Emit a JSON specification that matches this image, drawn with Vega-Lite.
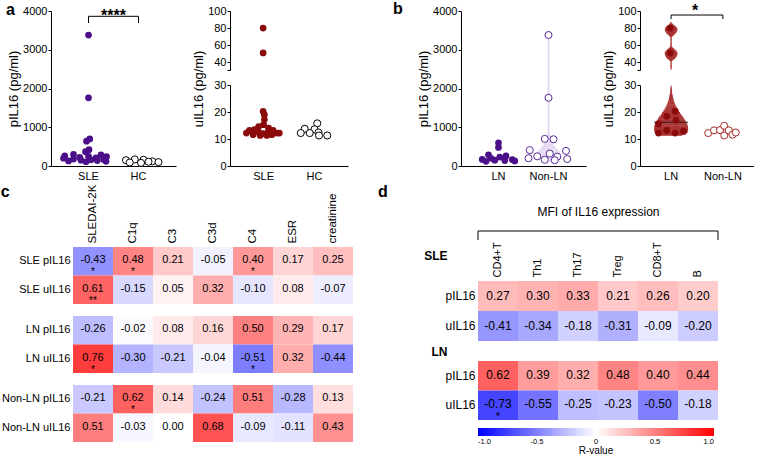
{
  "$schema": "https://vega.github.io/schema/vega-lite/v6.json",
  "padding": {"left": 0, "top": 1, "right": 0, "bottom": 0},
  "background": "white",
  "config": {
    "font": "Liberation Sans",
    "locale": {"number": {"decimal": ".", "thousands": ",", "grouping": [3], "currency": ["$", ""], "minus": "-"}},
    "view": {"stroke": null},
    "axis": {"labelFontSize": 11, "titleFontSize": 13, "titleFontWeight": "normal", "labelColor": "#000", "titleColor": "#000", "domainColor": "#000", "tickColor": "#000", "grid": false, "tickSize": 3, "labelPadding": 1, "titlePadding": 2},
    "title": {"fontSize": 16, "fontWeight": "bold", "color": "#000"}
  },
  "datasets": {
    "cdat": [
      {"g": "SLE", "row": "SLE pIL16", "col": "SLEDAI-2K", "r": -0.43, "s": "*"},
      {"g": "SLE", "row": "SLE pIL16", "col": "C1q", "r": 0.48, "s": "*"},
      {"g": "SLE", "row": "SLE pIL16", "col": "C3", "r": 0.21, "s": ""},
      {"g": "SLE", "row": "SLE pIL16", "col": "C3d", "r": -0.05, "s": ""},
      {"g": "SLE", "row": "SLE pIL16", "col": "C4", "r": 0.40, "s": "*"},
      {"g": "SLE", "row": "SLE pIL16", "col": "ESR", "r": 0.17, "s": ""},
      {"g": "SLE", "row": "SLE pIL16", "col": "creatinine", "r": 0.25, "s": ""},
      {"g": "SLE", "row": "SLE uIL16", "col": "SLEDAI-2K", "r": 0.61, "s": "**"},
      {"g": "SLE", "row": "SLE uIL16", "col": "C1q", "r": -0.15, "s": ""},
      {"g": "SLE", "row": "SLE uIL16", "col": "C3", "r": 0.05, "s": ""},
      {"g": "SLE", "row": "SLE uIL16", "col": "C3d", "r": 0.32, "s": ""},
      {"g": "SLE", "row": "SLE uIL16", "col": "C4", "r": -0.10, "s": ""},
      {"g": "SLE", "row": "SLE uIL16", "col": "ESR", "r": 0.08, "s": ""},
      {"g": "SLE", "row": "SLE uIL16", "col": "creatinine", "r": -0.07, "s": ""},
      {"g": "LN", "row": "LN pIL16", "col": "SLEDAI-2K", "r": -0.26, "s": ""},
      {"g": "LN", "row": "LN pIL16", "col": "C1q", "r": -0.02, "s": ""},
      {"g": "LN", "row": "LN pIL16", "col": "C3", "r": 0.08, "s": ""},
      {"g": "LN", "row": "LN pIL16", "col": "C3d", "r": 0.16, "s": ""},
      {"g": "LN", "row": "LN pIL16", "col": "C4", "r": 0.50, "s": ""},
      {"g": "LN", "row": "LN pIL16", "col": "ESR", "r": 0.29, "s": ""},
      {"g": "LN", "row": "LN pIL16", "col": "creatinine", "r": 0.17, "s": ""},
      {"g": "LN", "row": "LN uIL16", "col": "SLEDAI-2K", "r": 0.76, "s": "*"},
      {"g": "LN", "row": "LN uIL16", "col": "C1q", "r": -0.30, "s": ""},
      {"g": "LN", "row": "LN uIL16", "col": "C3", "r": -0.21, "s": ""},
      {"g": "LN", "row": "LN uIL16", "col": "C3d", "r": -0.04, "s": ""},
      {"g": "LN", "row": "LN uIL16", "col": "C4", "r": -0.51, "s": "*"},
      {"g": "LN", "row": "LN uIL16", "col": "ESR", "r": 0.32, "s": ""},
      {"g": "LN", "row": "LN uIL16", "col": "creatinine", "r": -0.44, "s": ""},
      {"g": "NL", "row": "Non-LN pIL16", "col": "SLEDAI-2K", "r": -0.21, "s": ""},
      {"g": "NL", "row": "Non-LN pIL16", "col": "C1q", "r": 0.62, "s": "*"},
      {"g": "NL", "row": "Non-LN pIL16", "col": "C3", "r": 0.14, "s": ""},
      {"g": "NL", "row": "Non-LN pIL16", "col": "C3d", "r": -0.24, "s": ""},
      {"g": "NL", "row": "Non-LN pIL16", "col": "C4", "r": 0.51, "s": ""},
      {"g": "NL", "row": "Non-LN pIL16", "col": "ESR", "r": -0.28, "s": ""},
      {"g": "NL", "row": "Non-LN pIL16", "col": "creatinine", "r": 0.13, "s": ""},
      {"g": "NL", "row": "Non-LN uIL16", "col": "SLEDAI-2K", "r": 0.51, "s": ""},
      {"g": "NL", "row": "Non-LN uIL16", "col": "C1q", "r": -0.03, "s": ""},
      {"g": "NL", "row": "Non-LN uIL16", "col": "C3", "r": 0.00, "s": ""},
      {"g": "NL", "row": "Non-LN uIL16", "col": "C3d", "r": 0.68, "s": ""},
      {"g": "NL", "row": "Non-LN uIL16", "col": "C4", "r": -0.09, "s": ""},
      {"g": "NL", "row": "Non-LN uIL16", "col": "ESR", "r": -0.11, "s": ""},
      {"g": "NL", "row": "Non-LN uIL16", "col": "creatinine", "r": 0.43, "s": ""}
    ],
    "ddat": [
      {"g": "SLE", "row": "pIL16", "col": "CD4+T", "r": 0.27, "s": ""},
      {"g": "SLE", "row": "pIL16", "col": "Th1", "r": 0.30, "s": ""},
      {"g": "SLE", "row": "pIL16", "col": "Th17", "r": 0.33, "s": ""},
      {"g": "SLE", "row": "pIL16", "col": "Treg", "r": 0.21, "s": ""},
      {"g": "SLE", "row": "pIL16", "col": "CD8+T", "r": 0.26, "s": ""},
      {"g": "SLE", "row": "pIL16", "col": "B", "r": 0.20, "s": ""},
      {"g": "SLE", "row": "uIL16", "col": "CD4+T", "r": -0.41, "s": ""},
      {"g": "SLE", "row": "uIL16", "col": "Th1", "r": -0.34, "s": ""},
      {"g": "SLE", "row": "uIL16", "col": "Th17", "r": -0.18, "s": ""},
      {"g": "SLE", "row": "uIL16", "col": "Treg", "r": -0.31, "s": ""},
      {"g": "SLE", "row": "uIL16", "col": "CD8+T", "r": -0.09, "s": ""},
      {"g": "SLE", "row": "uIL16", "col": "B", "r": -0.20, "s": ""},
      {"g": "LN", "row": "pIL16", "col": "CD4+T", "r": 0.62, "s": ""},
      {"g": "LN", "row": "pIL16", "col": "Th1", "r": 0.39, "s": ""},
      {"g": "LN", "row": "pIL16", "col": "Th17", "r": 0.32, "s": ""},
      {"g": "LN", "row": "pIL16", "col": "Treg", "r": 0.48, "s": ""},
      {"g": "LN", "row": "pIL16", "col": "CD8+T", "r": 0.40, "s": ""},
      {"g": "LN", "row": "pIL16", "col": "B", "r": 0.44, "s": ""},
      {"g": "LN", "row": "uIL16", "col": "CD4+T", "r": -0.73, "s": "*"},
      {"g": "LN", "row": "uIL16", "col": "Th1", "r": -0.55, "s": ""},
      {"g": "LN", "row": "uIL16", "col": "Th17", "r": -0.25, "s": ""},
      {"g": "LN", "row": "uIL16", "col": "Treg", "r": -0.23, "s": ""},
      {"g": "LN", "row": "uIL16", "col": "CD8+T", "r": -0.50, "s": ""},
      {"g": "LN", "row": "uIL16", "col": "B", "r": -0.18, "s": ""}
    ]
  },
  "resolve": {"scale": {"color": "independent"}},
  "columns": 1,
  "spacing": 3,
  "concat": [
    {
      "bounds": "flush",
      "spacing": 54,
      "hconcat": [
        {
          "width": 125, "height": 155,
          "title": {"text": "a", "orient": "top", "anchor": "start", "frame": "group", "align": "left", "baseline": "alphabetic", "offset": 0, "dx": -45, "dy": 26},
          "encoding": {
            "x": {"field": "g", "type": "nominal", "scale": {"type": "band", "domain": ["SLE", "HC"], "paddingOuter": 0.25, "paddingInner": 0}, "axis": {"title": null, "ticks": false, "labelAngle": 0, "labelPadding": 4}},
            "y": {"field": "v", "type": "quantitative", "scale": {"domain": [0, 4000], "nice": false}, "axis": {"values": [0, 1000, 2000, 3000, 4000], "format": "d", "title": "pIL16 (pg/ml)"}}
          },
          "layer": [
            {
              "data": {"values": [
                {"g": "SLE", "v": 3380, "dx": 0}, {"g": "SLE", "v": 1760, "dx": 0}, {"g": "SLE", "v": 700, "dx": 0.05}, {"g": "SLE", "v": 640, "dx": -0.08},
                {"g": "SLE", "v": 420, "dx": 0.02}, {"g": "SLE", "v": 370, "dx": -0.12}, {"g": "SLE", "v": 300, "dx": -0.6}, {"g": "SLE", "v": 290, "dx": 0.5},
                {"g": "SLE", "v": 260, "dx": -0.95}, {"g": "SLE", "v": 250, "dx": 0.0}, {"g": "SLE", "v": 240, "dx": 0.72}, {"g": "SLE", "v": 220, "dx": -0.35},
                {"g": "SLE", "v": 210, "dx": 0.3}, {"g": "SLE", "v": 200, "dx": -1.0}, {"g": "SLE", "v": 180, "dx": -0.6}, {"g": "SLE", "v": 170, "dx": 0.6},
                {"g": "SLE", "v": 160, "dx": 0.1}, {"g": "SLE", "v": 150, "dx": -0.3}, {"g": "SLE", "v": 140, "dx": 0.35}, {"g": "SLE", "v": 130, "dx": -0.8},
                {"g": "SLE", "v": 120, "dx": 0.7}, {"g": "SLE", "v": 110, "dx": -0.1}
              ]},
              "mark": {"type": "circle", "size": 45, "color": "#4B0F8A", "opacity": 1},
              "encoding": {"xOffset": {"field": "dx", "type": "quantitative", "scale": {"domain": [-1, 1]}}}
            },
            {
              "data": {"values": [
                {"g": "HC", "v": 150, "dx": -0.5}, {"g": "HC", "v": 170, "dx": -0.15}, {"g": "HC", "v": 160, "dx": 0.2}, {"g": "HC", "v": 120, "dx": 0.55},
                {"g": "HC", "v": 100, "dx": 0.8}, {"g": "HC", "v": 90, "dx": -0.35}, {"g": "HC", "v": 80, "dx": 0.1}, {"g": "HC", "v": 110, "dx": 0.4}
              ]},
              "mark": {"type": "circle", "size": 50, "fill": "#ffffff", "stroke": "#000000", "strokeWidth": 1, "opacity": 1},
              "encoding": {"xOffset": {"field": "dx", "type": "quantitative", "scale": {"domain": [-1, 1]}}}
            },
            {
              "data": {"values": [{"g": "SLE", "g2": "HC", "v": 3863}]},
              "mark": {"type": "rule", "color": "#000", "strokeWidth": 1},
              "encoding": {"x2": {"field": "g2"}}
            },
            {
              "data": {"values": [{"g": "SLE", "v": 3863, "v2": 3690}, {"g": "HC", "v": 3863, "v2": 3690}]},
              "mark": {"type": "rule", "color": "#000", "strokeWidth": 1},
              "encoding": {"y2": {"field": "v2"}}
            },
            {
              "data": {"values": [{"g": "SLE", "dx": 1, "v": 3740, "t": "****"}]},
              "mark": {"type": "text", "fontSize": 16, "fontWeight": "bold", "baseline": "alphabetic", "color": "#000"},
              "encoding": {"xOffset": {"field": "dx", "type": "quantitative", "scale": {"domain": [-1, 1]}}, "text": {"field": "t"}}
            }
          ]
        },
        {
          "width": 118, "height": 155,
          "encoding": {
            "x": {"field": "g", "type": "nominal", "scale": {"type": "band", "domain": ["SLE", "HC"], "paddingOuter": 0.16, "paddingInner": 0}, "axis": {"title": null, "ticks": false, "labelAngle": 0, "labelPadding": 4}},
            "y": {"field": "v", "type": "quantitative", "scale": {"domain": [0, 30, 31, 100], "range": [155, 74, 59, 0], "nice": false, "zero": false}, "axis": {"values": [0, 10, 20, 30, 31, 40, 60, 80, 100], "labelExpr": "datum.value == 31 ? '' : datum.label", "title": "uIL16 (pg/ml)", "domainDash": [81, 15, 59]}}
          },
          "layer": [
            {
              "data": {"values": [
                {"g": "SLE", "v": 80, "dx": 0}, {"g": "SLE", "v": 51, "dx": 0}, {"g": "SLE", "v": 20.2, "dx": 0}, {"g": "SLE", "v": 19, "dx": 0.05},
                {"g": "SLE", "v": 17.2, "dx": 0.05}, {"g": "SLE", "v": 15.3, "dx": 0.02}, {"g": "SLE", "v": 14.6, "dx": -0.18}, {"g": "SLE", "v": 14, "dx": 0.22},
                {"g": "SLE", "v": 13.5, "dx": -0.35}, {"g": "SLE", "v": 13.2, "dx": -0.55}, {"g": "SLE", "v": 13.2, "dx": 0.4}, {"g": "SLE", "v": 12.6, "dx": -0.18},
                {"g": "SLE", "v": 12.6, "dx": 0.2}, {"g": "SLE", "v": 12.2, "dx": -0.67}, {"g": "SLE", "v": 12.2, "dx": 0.55}, {"g": "SLE", "v": 12, "dx": 0},
                {"g": "SLE", "v": 11.6, "dx": -0.4}, {"g": "SLE", "v": 11.6, "dx": 0.35}, {"g": "SLE", "v": 11.3, "dx": -0.12}, {"g": "SLE", "v": 11.3, "dx": 0.15},
                {"g": "SLE", "v": 12.2, "dx": 0.65}
              ]},
              "mark": {"type": "circle", "size": 45, "color": "#8B0A0A", "opacity": 1},
              "encoding": {"xOffset": {"field": "dx", "type": "quantitative", "scale": {"domain": [-1, 1]}}}
            },
            {
              "data": {"values": [
                {"g": "HC", "v": 15.8, "dx": 0.13}, {"g": "HC", "v": 13.8, "dx": -0.37}, {"g": "HC", "v": 13.6, "dx": 0.02}, {"g": "HC", "v": 12.2, "dx": -0.53},
                {"g": "HC", "v": 12.2, "dx": -0.17}, {"g": "HC", "v": 12.4, "dx": 0.18}, {"g": "HC", "v": 11.3, "dx": 0.2}, {"g": "HC", "v": 11.3, "dx": 0.53}
              ]},
              "mark": {"type": "circle", "size": 50, "fill": "#ffffff", "stroke": "#000000", "strokeWidth": 1, "opacity": 1},
              "encoding": {"xOffset": {"field": "dx", "type": "quantitative", "scale": {"domain": [-1, 1]}}}
            }
          ]
        },
        {
          "width": 5, "height": 155,
          "data": {"values": [{"k": 1}]},
          "mark": {"type": "point", "opacity": 0},
          "encoding": {}
        },
        {
          "width": 125, "height": 155,
          "title": {"text": "b", "orient": "top", "anchor": "start", "frame": "group", "align": "left", "baseline": "alphabetic", "offset": 0, "dx": -68, "dy": 25},
          "encoding": {
            "x": {"field": "g", "type": "nominal", "scale": {"type": "band", "domain": ["LN", "Non-LN"], "paddingOuter": 0.25, "paddingInner": 0}, "axis": {"title": null, "ticks": false, "labelAngle": 0, "labelPadding": 4}},
            "y": {"field": "v", "type": "quantitative", "scale": {"domain": [0, 4000], "nice": false}, "axis": {"values": [0, 1000, 2000, 3000, 4000], "format": "d", "title": "pIL16 (pg/ml)"}}
          },
          "layer": [
            {
              "data": {"values": [
                {"g": "Non-LN", "v": 150, "w": 0.3}, {"g": "Non-LN", "v": 200, "w": 0.42}, {"g": "Non-LN", "v": 250, "w": 0.48}, {"g": "Non-LN", "v": 300, "w": 0.5},
                {"g": "Non-LN", "v": 350, "w": 0.46}, {"g": "Non-LN", "v": 400, "w": 0.4}, {"g": "Non-LN", "v": 450, "w": 0.32}, {"g": "Non-LN", "v": 500, "w": 0.26},
                {"g": "Non-LN", "v": 550, "w": 0.2}, {"g": "Non-LN", "v": 600, "w": 0.17}, {"g": "Non-LN", "v": 650, "w": 0.15}, {"g": "Non-LN", "v": 700, "w": 0.13},
                {"g": "Non-LN", "v": 750, "w": 0.1}, {"g": "Non-LN", "v": 800, "w": 0.07}, {"g": "Non-LN", "v": 850, "w": 0.05},
                {"g": "Non-LN", "v": 1680, "w": 0.05}, {"g": "Non-LN", "v": 1720, "w": 0.09}, {"g": "Non-LN", "v": 1760, "w": 0.11}, {"g": "Non-LN", "v": 1800, "w": 0.09}, {"g": "Non-LN", "v": 1840, "w": 0.05},
                {"g": "Non-LN", "v": 3300, "w": 0.05}, {"g": "Non-LN", "v": 3340, "w": 0.09}, {"g": "Non-LN", "v": 3380, "w": 0.11}, {"g": "Non-LN", "v": 3420, "w": 0.09}, {"g": "Non-LN", "v": 3460, "w": 0.05}
              ]},
              "mark": {"type": "tick", "thickness": 2.2, "color": "#E4DAF2", "opacity": 1},
              "encoding": {"size": {"field": "w", "type": "quantitative", "scale": {"type": "linear", "domain": [0, 1], "range": [0, 50], "zero": true}, "legend": null}}
            },
            {
              "data": {"values": [{"g": "Non-LN", "v": 850, "v2": 3460}]},
              "mark": {"type": "rule", "color": "#E4DAF2", "strokeWidth": 2},
              "encoding": {"y2": {"field": "v2"}}
            },
            {
              "data": {"values": [
                {"g": "LN", "v": 600, "dx": 0}, {"g": "LN", "v": 480, "dx": 0}, {"g": "LN", "v": 290, "dx": -0.4}, {"g": "LN", "v": 260, "dx": 0.3},
                {"g": "LN", "v": 230, "dx": 0.05}, {"g": "LN", "v": 200, "dx": -0.3}, {"g": "LN", "v": 170, "dx": -0.65}, {"g": "LN", "v": 165, "dx": 0.55},
                {"g": "LN", "v": 150, "dx": -0.15}, {"g": "LN", "v": 140, "dx": 0.25}, {"g": "LN", "v": 130, "dx": 0.65}, {"g": "LN", "v": 120, "dx": -0.5}
              ]},
              "mark": {"type": "circle", "size": 45, "color": "#4B0F8A", "opacity": 1},
              "encoding": {"xOffset": {"field": "dx", "type": "quantitative", "scale": {"domain": [-1, 1]}}}
            },
            {
              "data": {"values": [
                {"g": "Non-LN", "v": 3380, "dx": 0}, {"g": "Non-LN", "v": 1760, "dx": 0}, {"g": "Non-LN", "v": 700, "dx": -0.15}, {"g": "Non-LN", "v": 690, "dx": 0.2},
                {"g": "Non-LN", "v": 410, "dx": -0.75}, {"g": "Non-LN", "v": 390, "dx": 0.7}, {"g": "Non-LN", "v": 320, "dx": 0.05}, {"g": "Non-LN", "v": 250, "dx": -0.45},
                {"g": "Non-LN", "v": 240, "dx": 0.35}, {"g": "Non-LN", "v": 200, "dx": -0.8}, {"g": "Non-LN", "v": 180, "dx": 0.75}, {"g": "Non-LN", "v": 160, "dx": -0.15},
                {"g": "Non-LN", "v": 150, "dx": 0.25}
              ]},
              "mark": {"type": "circle", "size": 50, "fill": "#ffffff", "stroke": "#5A2A9A", "strokeWidth": 1, "opacity": 1},
              "encoding": {"xOffset": {"field": "dx", "type": "quantitative", "scale": {"domain": [-1, 1]}}}
            }
          ]
        },
        {
          "width": 114, "height": 155,
          "encoding": {
            "x": {"field": "g", "type": "nominal", "scale": {"type": "band", "domain": ["LN", "Non-LN"], "paddingOuter": 0.1, "paddingInner": 0}, "axis": {"title": null, "ticks": false, "labelAngle": 0, "labelPadding": 4}},
            "y": {"field": "v", "type": "quantitative", "scale": {"domain": [0, 30, 31, 100], "range": [155, 74, 59, 0], "nice": false, "zero": false}, "axis": {"values": [0, 10, 20, 30, 31, 40, 60, 80, 100], "labelExpr": "datum.value == 31 ? '' : datum.label", "title": "uIL16 (pg/ml)", "domainDash": [81, 15, 59]}}
          },
          "layer": [
            {
              "data": {"values": [
                {"g": "LN", "v": 11.6, "w": 0.45}, {"g": "LN", "v": 12.0, "w": 0.6}, {"g": "LN", "v": 12.6, "w": 0.66}, {"g": "LN", "v": 13.3, "w": 0.68},
                {"g": "LN", "v": 14.0, "w": 0.68}, {"g": "LN", "v": 14.7, "w": 0.67}, {"g": "LN", "v": 15.4, "w": 0.65}, {"g": "LN", "v": 16.1, "w": 0.62},
                {"g": "LN", "v": 16.8, "w": 0.57}, {"g": "LN", "v": 17.5, "w": 0.52}, {"g": "LN", "v": 18.2, "w": 0.47}, {"g": "LN", "v": 18.9, "w": 0.41},
                {"g": "LN", "v": 19.6, "w": 0.36}, {"g": "LN", "v": 20.3, "w": 0.31}, {"g": "LN", "v": 21.0, "w": 0.26}, {"g": "LN", "v": 21.7, "w": 0.22},
                {"g": "LN", "v": 22.4, "w": 0.18}, {"g": "LN", "v": 23.1, "w": 0.15}, {"g": "LN", "v": 23.8, "w": 0.12}, {"g": "LN", "v": 24.5, "w": 0.1},
                {"g": "LN", "v": 25.2, "w": 0.08}, {"g": "LN", "v": 25.9, "w": 0.07}, {"g": "LN", "v": 26.6, "w": 0.05}, {"g": "LN", "v": 27.3, "w": 0.04},
                {"g": "LN", "v": 28.0, "w": 0.035}, {"g": "LN", "v": 28.7, "w": 0.03}, {"g": "LN", "v": 29.4, "w": 0.02},
                {"g": "LN", "v": 32.5, "w": 0.02}, {"g": "LN", "v": 34, "w": 0.02}, {"g": "LN", "v": 35.5, "w": 0.02}, {"g": "LN", "v": 37, "w": 0.02},
                {"g": "LN", "v": 38.5, "w": 0.02}, {"g": "LN", "v": 40, "w": 0.02}, {"g": "LN", "v": 42, "w": 0.04}, {"g": "LN", "v": 43.5, "w": 0.1},
                {"g": "LN", "v": 45, "w": 0.16}, {"g": "LN", "v": 46.5, "w": 0.2}, {"g": "LN", "v": 48, "w": 0.23}, {"g": "LN", "v": 49.5, "w": 0.25},
                {"g": "LN", "v": 51, "w": 0.25}, {"g": "LN", "v": 52.5, "w": 0.22}, {"g": "LN", "v": 54, "w": 0.17}, {"g": "LN", "v": 55.5, "w": 0.11},
                {"g": "LN", "v": 57, "w": 0.06}, {"g": "LN", "v": 58.5, "w": 0.03}, {"g": "LN", "v": 60, "w": 0.02}, {"g": "LN", "v": 61.5, "w": 0.02},
                {"g": "LN", "v": 63, "w": 0.02}, {"g": "LN", "v": 64.5, "w": 0.02}, {"g": "LN", "v": 66, "w": 0.02}, {"g": "LN", "v": 67.5, "w": 0.02},
                {"g": "LN", "v": 69, "w": 0.02}, {"g": "LN", "v": 70.5, "w": 0.05}, {"g": "LN", "v": 72, "w": 0.1}, {"g": "LN", "v": 73.5, "w": 0.15},
                {"g": "LN", "v": 75, "w": 0.2}, {"g": "LN", "v": 76.5, "w": 0.23}, {"g": "LN", "v": 78, "w": 0.25}, {"g": "LN", "v": 79.5, "w": 0.24},
                {"g": "LN", "v": 81, "w": 0.2}, {"g": "LN", "v": 82.5, "w": 0.14}, {"g": "LN", "v": 84, "w": 0.08}, {"g": "LN", "v": 85.5, "w": 0.03}
              ]},
              "mark": {"type": "tick", "thickness": 2.2, "color": "#A93232", "opacity": 1},
              "encoding": {"size": {"field": "w", "type": "quantitative", "scale": {"type": "linear", "domain": [0, 1], "range": [0, 50], "zero": true}, "legend": null}}
            },
            {
              "data": {"values": [{"g": "LN", "v": 16.2}]},
              "mark": {"type": "tick", "thickness": 1, "color": "#000", "size": 34}
            },
            {
              "data": {"values": [
                {"g": "LN", "v": 80, "dx": 0}, {"g": "LN", "v": 51, "dx": 0}, {"g": "LN", "v": 20.3, "dx": 0.2}, {"g": "LN", "v": 18.4, "dx": -0.14},
                {"g": "LN", "v": 16.9, "dx": 0.23}, {"g": "LN", "v": 15.6, "dx": -0.47}, {"g": "LN", "v": 13.2, "dx": -0.14}, {"g": "LN", "v": 12.2, "dx": -0.47},
                {"g": "LN", "v": 12.2, "dx": 0.2}, {"g": "LN", "v": 12.9, "dx": 0.53}
              ]},
              "mark": {"type": "circle", "size": 45, "color": "#8B0A0A", "opacity": 1},
              "encoding": {"xOffset": {"field": "dx", "type": "quantitative", "scale": {"domain": [-1, 1]}}}
            },
            {
              "data": {"values": [
                {"g": "Non-LN", "v": 12.2, "dx": -0.55}, {"g": "Non-LN", "v": 13.2, "dx": -0.32}, {"g": "Non-LN", "v": 13.3, "dx": -0.08}, {"g": "Non-LN", "v": 14.9, "dx": 0.09},
                {"g": "Non-LN", "v": 11.3, "dx": 0.09}, {"g": "Non-LN", "v": 13.2, "dx": 0.27}, {"g": "Non-LN", "v": 11.6, "dx": 0.42}, {"g": "Non-LN", "v": 12.4, "dx": 0.55}
              ]},
              "mark": {"type": "circle", "size": 50, "fill": "#ffffff", "stroke": "#A52A2A", "strokeWidth": 1, "opacity": 1},
              "encoding": {"xOffset": {"field": "dx", "type": "quantitative", "scale": {"domain": [-1, 1]}}}
            },
            {
              "data": {"values": [{"g": "LN", "g2": "Non-LN", "v": 95.3}]},
              "mark": {"type": "rule", "color": "#000", "strokeWidth": 1},
              "encoding": {"x2": {"field": "g2"}}
            },
            {
              "data": {"values": [{"g": "LN", "v": 95.3, "v2": 90.6}, {"g": "Non-LN", "v": 95.3, "v2": 90.6}]},
              "mark": {"type": "rule", "color": "#000", "strokeWidth": 1},
              "encoding": {"y2": {"field": "v2"}}
            },
            {
              "data": {"values": [{"g": "LN", "dx": 1, "v": 94, "t": "*"}]},
              "mark": {"type": "text", "fontSize": 16, "fontWeight": "bold", "baseline": "alphabetic", "color": "#000"},
              "encoding": {"xOffset": {"field": "dx", "type": "quantitative", "scale": {"domain": [-1, 1]}}, "text": {"field": "t"}}
            }
          ]
        }
      ]
    },
    {
      "spacing": 24,
      "resolve": {"scale": {"color": "independent"}},
      "hconcat": [
        {
          "spacing": 10,
          "resolve": {"scale": {"color": "independent"}},
          "vconcat": [
            {
              "data": {"name": "cdat"},
              "transform": [{"filter": "datum.g == 'SLE'"}],
              "width": 302, "height": 57,
              "title": {"text": "c", "orient": "left", "angle": 0, "anchor": "end", "frame": "bounds", "align": "right", "baseline": "top", "offset": 0, "dy": 0},
              "encoding": {
                "x": {"field": "col", "type": "nominal", "sort": ["SLEDAI-2K", "C1q", "C3", "C3d", "C4", "ESR", "creatinine"], "scale": {"type": "band", "paddingInner": 0, "paddingOuter": 0.275, "align": 1}, "axis": {"orient": "top", "labelAngle": -90, "ticks": false, "domain": false, "title": null, "labelPadding": 4, "labelFontSize": 11.5}},
                "y": {"field": "row", "type": "nominal", "sort": ["SLE pIL16", "SLE uIL16"], "scale": {"type": "band", "paddingInner": 0, "paddingOuter": 0}, "axis": {"ticks": false, "domain": false, "title": null, "labelFontSize": 11, "labelPadding": 3, "offset": -22}}
              },
              "layer": [
                {"mark": {"type": "rect", "width": 40, "height": 28.5}, "encoding": {"color": {"field": "r", "type": "quantitative", "scale": {"domain": [-1, 0, 1], "range": ["#0000ff", "#ffffff", "#ff0000"], "interpolate": "rgb"}, "legend": null}}},
                {"mark": {"type": "text", "fontSize": 11, "color": "#000", "dy": -1}, "encoding": {"text": {"field": "r", "type": "quantitative", "format": ".2f"}}},
                {"mark": {"type": "text", "fontSize": 10, "color": "#000", "dy": 11}, "encoding": {"text": {"field": "s"}}}
              ]
            },
            {
              "data": {"name": "cdat"},
              "transform": [{"filter": "datum.g == 'LN'"}],
              "width": 302, "height": 57,
              "encoding": {
                "x": {"field": "col", "type": "nominal", "sort": ["SLEDAI-2K", "C1q", "C3", "C3d", "C4", "ESR", "creatinine"], "scale": {"type": "band", "paddingInner": 0, "paddingOuter": 0.275, "align": 1}, "axis": null},
                "y": {"field": "row", "type": "nominal", "sort": ["LN pIL16", "LN uIL16"], "scale": {"type": "band", "paddingInner": 0, "paddingOuter": 0}, "axis": {"ticks": false, "domain": false, "title": null, "labelFontSize": 11, "labelPadding": 3, "offset": -22}}
              },
              "layer": [
                {"mark": {"type": "rect", "width": 40, "height": 28.5}, "encoding": {"color": {"field": "r", "type": "quantitative", "scale": {"domain": [-1, 0, 1], "range": ["#0000ff", "#ffffff", "#ff0000"], "interpolate": "rgb"}, "legend": null}}},
                {"mark": {"type": "text", "fontSize": 11, "color": "#000", "dy": -1}, "encoding": {"text": {"field": "r", "type": "quantitative", "format": ".2f"}}},
                {"mark": {"type": "text", "fontSize": 10, "color": "#000", "dy": 11}, "encoding": {"text": {"field": "s"}}}
              ]
            },
            {
              "data": {"name": "cdat"},
              "transform": [{"filter": "datum.g == 'NL'"}],
              "width": 302, "height": 57,
              "encoding": {
                "x": {"field": "col", "type": "nominal", "sort": ["SLEDAI-2K", "C1q", "C3", "C3d", "C4", "ESR", "creatinine"], "scale": {"type": "band", "paddingInner": 0, "paddingOuter": 0.275, "align": 1}, "axis": null},
                "y": {"field": "row", "type": "nominal", "sort": ["Non-LN pIL16", "Non-LN uIL16"], "scale": {"type": "band", "paddingInner": 0, "paddingOuter": 0}, "axis": {"ticks": false, "domain": false, "title": null, "labelFontSize": 11, "labelPadding": 3, "offset": -22}}
              },
              "layer": [
                {"mark": {"type": "rect", "width": 40, "height": 28.5}, "encoding": {"color": {"field": "r", "type": "quantitative", "scale": {"domain": [-1, 0, 1], "range": ["#0000ff", "#ffffff", "#ff0000"], "interpolate": "rgb"}, "legend": null}}},
                {"mark": {"type": "text", "fontSize": 11, "color": "#000", "dy": -1}, "encoding": {"text": {"field": "r", "type": "quantitative", "format": ".2f"}}},
                {"mark": {"type": "text", "fontSize": 10, "color": "#000", "dy": 11}, "encoding": {"text": {"field": "s"}}}
              ]
            }
          ]
        },
        {
          "spacing": 20,
          "bounds": "flush",
          "resolve": {"scale": {"color": "independent"}},
          "vconcat": [
            {
              "width": 240, "height": 14,
              "title": {"text": "d", "orient": "left", "angle": 0, "anchor": "end", "frame": "group", "align": "right", "baseline": "alphabetic", "offset": 80, "dy": -50},
              "data": {"values": [{"k": 1}]},
              "layer": [
                {
                  "mark": {"type": "rule", "color": "#000", "strokeWidth": 1},
                  "encoding": {
                    "x": {"datum": 0, "type": "quantitative", "scale": {"domain": [0, 6], "nice": false}, "axis": {"orient": "top", "labels": false, "ticks": false, "domain": false, "title": "MFI of IL16 expression", "titleFontSize": 12, "titlePadding": 29}},
                    "x2": {"datum": 6},
                    "y": {"datum": 2.143, "type": "quantitative", "scale": {"domain": [0, 1], "nice": false, "zero": false}, "axis": null}
                  }
                },
                {
                  "mark": {"type": "rule", "color": "#000", "strokeWidth": 1},
                  "encoding": {"x": {"datum": 0, "type": "quantitative"}, "y": {"datum": 2.143, "type": "quantitative"}, "y2": {"datum": 1.5}}
                },
                {
                  "mark": {"type": "rule", "color": "#000", "strokeWidth": 1},
                  "encoding": {"x": {"datum": 6, "type": "quantitative"}, "y": {"datum": 2.143, "type": "quantitative"}, "y2": {"datum": 1.5}}
                }
              ]
            },
            {
              "data": {"name": "ddat"},
              "transform": [{"filter": "datum.g == 'SLE'"}],
              "width": 240, "height": 60,
              "encoding": {
                "x": {"field": "col", "type": "nominal", "sort": ["CD4+T", "Th1", "Th17", "Treg", "CD8+T", "B"], "scale": {"type": "band", "paddingInner": 0, "paddingOuter": 0}, "axis": {"orient": "top", "labelAngle": -90, "ticks": false, "domain": false, "title": null, "labelPadding": 4, "labelFontSize": 11}},
                "y": {"field": "row", "type": "nominal", "sort": ["pIL16", "uIL16"], "scale": {"type": "band", "paddingInner": 0, "paddingOuter": 0}, "axis": {"ticks": false, "domain": false, "labelFontSize": 12, "labelPadding": 3, "title": "SLE", "titleAngle": 0, "titleFontWeight": "bold", "titleFontSize": 12, "titleAlign": "right", "titleBaseline": "alphabetic", "titleX": -31, "titleY": -22}}
              },
              "layer": [
                {"mark": {"type": "rect", "width": 40, "height": 30}, "encoding": {"color": {"field": "r", "type": "quantitative", "scale": {"domain": [-1, 0, 1], "range": ["#0000ff", "#ffffff", "#ff0000"], "interpolate": "rgb"}, "legend": null}}},
                {"mark": {"type": "text", "fontSize": 12, "color": "#000"}, "encoding": {"text": {"field": "r", "type": "quantitative", "format": ".2f"}}}
              ]
            },
            {
              "data": {"name": "ddat"},
              "transform": [{"filter": "datum.g == 'LN'"}],
              "width": 240, "height": 59,
              "encoding": {
                "x": {"field": "col", "type": "nominal", "sort": ["CD4+T", "Th1", "Th17", "Treg", "CD8+T", "B"], "scale": {"type": "band", "paddingInner": 0, "paddingOuter": 0}, "axis": null},
                "y": {"field": "row", "type": "nominal", "sort": ["pIL16", "uIL16"], "scale": {"type": "band", "paddingInner": 0, "paddingOuter": 0}, "axis": {"ticks": false, "domain": false, "labelFontSize": 12, "labelPadding": 3, "title": "LN", "titleAngle": 0, "titleFontWeight": "bold", "titleFontSize": 12, "titleAlign": "right", "titleBaseline": "alphabetic", "titleX": -31, "titleY": -6}}
              },
              "layer": [
                {"mark": {"type": "rect", "width": 40, "height": 29.5}, "encoding": {"color": {"field": "r", "type": "quantitative", "scale": {"domain": [-1, 0, 1], "range": ["#0000ff", "#ffffff", "#ff0000"], "interpolate": "rgb"}, "legend": {"orient": "bottom", "direction": "horizontal", "gradientLength": 236, "gradientThickness": 8, "title": "R-value", "titleOrient": "bottom", "titleAnchor": "middle", "titleFontSize": 10, "titleFontWeight": "normal", "titleColor": "#000", "labelFontSize": 7.5, "labelColor": "#000", "values": [-1, -0.5, 0, 0.5, 1], "labelExpr": "datum.value == 0 ? '0' : format(datum.value, '.1f')", "offset": 8, "titlePadding": 0}}}},
                {"mark": {"type": "text", "fontSize": 12, "color": "#000", "dy": -1}, "encoding": {"text": {"field": "r", "type": "quantitative", "format": ".2f"}}},
                {"mark": {"type": "text", "fontSize": 11, "color": "#000", "dy": 12}, "encoding": {"text": {"field": "s"}}}
              ]
            }
          ]
        }
      ]
    }
  ]
}
